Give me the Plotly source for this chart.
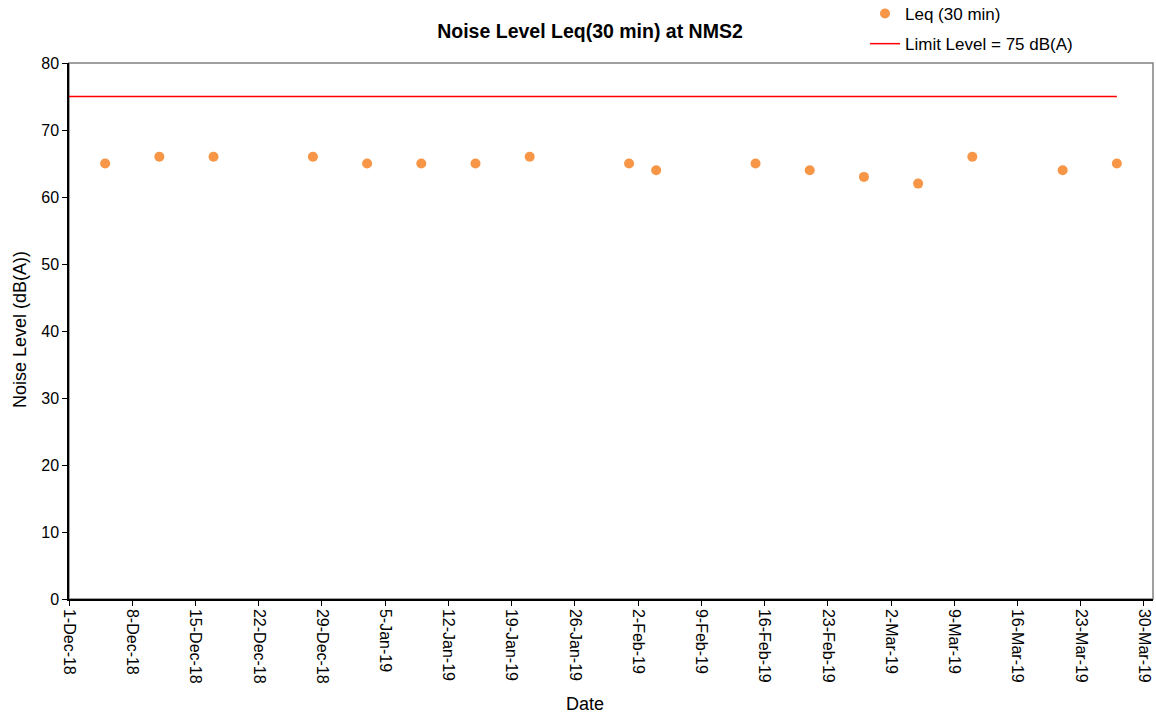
import plotly.graph_objects as go

FONT = "Liberation Sans, Arial, sans-serif"

# measurement dates and Leq(30 min) readings, dB(A)
dates = ["2018-12-05", "2018-12-11", "2018-12-17", "2018-12-28", "2019-01-03",
         "2019-01-09", "2019-01-15", "2019-01-21", "2019-02-01", "2019-02-04",
         "2019-02-15", "2019-02-21", "2019-02-27", "2019-03-05", "2019-03-11",
         "2019-03-21", "2019-03-27"]
leq = [65, 66, 66, 66, 65, 65, 65, 66, 65, 64, 65, 64, 63, 62, 66, 64, 65]

limit_dates = ["2018-12-01", "2019-03-27"]
limit_level = [75, 75]

fig = go.Figure()
fig.add_trace(go.Scatter(
    x=dates, y=leq, name="Leq (30 min)", mode="markers",
    marker=dict(color="#F79646", size=10, line=dict(width=0)),
    legendgroup="a",
))
fig.add_trace(go.Scatter(
    x=limit_dates, y=limit_level, name="Limit Level = 75 dB(A)", mode="lines",
    line=dict(color="#FF0000", width=1.5),
    legendgroup="b",
))

fig.update_layout(
    width=1156, height=718,
    margin=dict(l=69, r=3, t=63, b=119, autoexpand=False),
    paper_bgcolor="white", plot_bgcolor="white",
    font=dict(family=FONT, color="black", size=16),
    title=dict(text="<b>Noise Level Leq(30 min) at NMS2</b>", x=590 / 1156, xanchor="center",
               y=1 - 31 / 718, yanchor="middle", font=dict(size=19.5)),
    legend=dict(x=(865 - 69) / 1084, y=1 + 67 / 536, xanchor="left", yanchor="top",
                font=dict(size=17), bgcolor="rgba(0,0,0,0)",
                tracegroupgap=5, itemwidth=30),
    showlegend=True,
    shapes=[dict(type="rect", xref="paper", yref="paper", x0=0, x1=1, y0=0, y1=1,
                 line=dict(color="#808080", width=1.5), layer="below")],
    annotations=[
        dict(text="Noise Level (dB(A))", xref="paper", yref="paper",
             x=(20 - 69) / 1084, y=(599 - 330) / 536, textangle=-90, showarrow=False,
             xanchor="center", yanchor="middle", font=dict(size=18)),
        dict(text="Date", xref="paper", yref="paper",
             x=(585 - 69) / 1084, y=-(704 - 599) / 536, showarrow=False,
             xanchor="center", yanchor="middle", font=dict(size=18)),
    ],
)
fig.update_xaxes(
    type="date", range=["2018-12-01", "2019-03-31"],
    tick0="2018-12-01", dtick=7 * 86400000, tickformat="%-d-%b-%y",
    tickangle=90, ticks="outside", ticklen=5, tickcolor="black",
    showline=True, linecolor="black", linewidth=1.5, showgrid=False,
    zeroline=False, tickfont=dict(size=16), automargin=False,
)
fig.update_yaxes(
    range=[0, 80], dtick=10, ticks="outside", ticklen=5, tickcolor="black",
    showline=True, linecolor="black", linewidth=1.5, showgrid=False,
    zeroline=False, tickfont=dict(size=16), automargin=False,
)

# drop the browser's default 8px body margin so the figure sits at the page origin
fig.write_html("out.html", config={"displayModeBar": False},
               post_script="document.body.style.margin='0';")
